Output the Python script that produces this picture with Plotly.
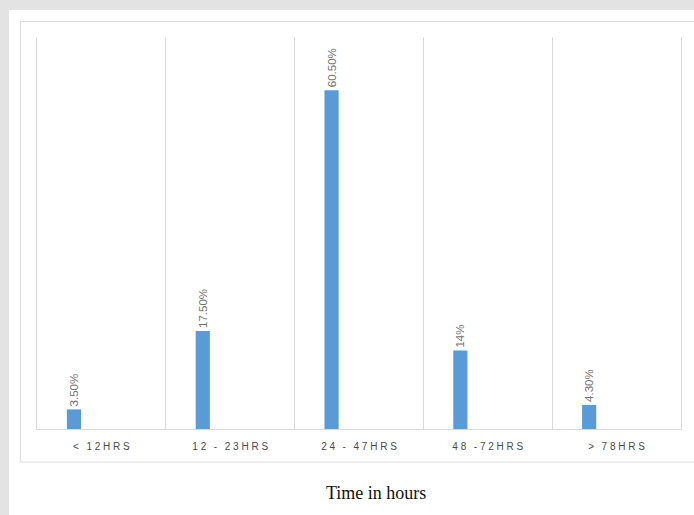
import plotly.graph_objects as go

# Share of cases by time interval
categories = ["< 12HRS", "12 - 23HRS", "24 - 47HRS", "48 -72HRS", "> 78HRS"]
values = [3.5, 17.5, 60.5, 14, 4.3]
value_labels = ["3.50%", "17.50%", "60.50%", "14%", "4.30%"]

W, H = 694, 515
L, R, T, B = 37, 13, 37, 86
PW, PH = W - L - R, H - T - B


def spaced(s):
    # wide letter spacing for the category captions
    return " ".join(s.replace(" ", "\u2009"))


def px_x(p):
    return (p - L) / PW


def px_y(p):
    return (H - B - p) / PH


fig = go.Figure()
fig.add_trace(go.Bar(
    x=categories,
    y=values,
    text=value_labels,
    textposition="outside",
    textangle=-90,
    constraintext="none",
    textfont=dict(family="Liberation Sans, Arial", size=11.5, color="#707070"),
    marker=dict(color="#5b9bd5", line=dict(width=0)),
    width=0.11,
    offset=-0.268,
    cliponaxis=False,
    hoverinfo="skip",
))

shapes = [
    # gray frame strips
    dict(type="rect", xref="paper", yref="paper", x0=px_x(0), x1=px_x(9),
         y0=px_y(H), y1=px_y(0), fillcolor="#e3e3e3", line=dict(width=0), layer="below"),
    dict(type="rect", xref="paper", yref="paper", x0=px_x(0), x1=px_x(W),
         y0=px_y(10), y1=px_y(0), fillcolor="#e3e3e3", line=dict(width=0), layer="below"),
    # chart box
    dict(type="rect", xref="paper", yref="paper", x0=px_x(20.5), x1=px_x(W + 5),
         y0=px_y(462), y1=px_y(21.5), fillcolor="rgba(0,0,0,0)",
         line=dict(color="#dedede", width=1.2), layer="below"),
]

fig.update_layout(
    width=W, height=H,
    margin=dict(l=L, r=R, t=T, b=B),
    paper_bgcolor="white",
    plot_bgcolor="white",
    showlegend=False,
    shapes=shapes,
    xaxis=dict(
        type="category",
        tickmode="array",
        tickvals=categories,
        ticktext=[spaced(c) for c in categories],
        range=[-0.5, len(categories) - 0.5],
        tickson="boundaries",
        ticks="",
        showgrid=True,
        gridcolor="#d9d9d9",
        gridwidth=1,
        showline=True,
        linecolor="#d9d9d9",
        linewidth=1,
        mirror=False,
        zeroline=False,
        tickfont=dict(family="Liberation Sans, Arial", size=10, color="#4a4a4a"),
        ticklabelstandoff=8,
        fixedrange=True,
    ),
    yaxis=dict(
        range=[0, 70],
        showgrid=False,
        showticklabels=False,
        zeroline=False,
        showline=True,
        linecolor="#d9d9d9",
        linewidth=1,
        mirror=True,
        ticks="",
        fixedrange=True,
    ),
    annotations=[
        dict(text="Time in hours", xref="paper", yref="paper",
             x=px_x(376), y=px_y(493), xanchor="center", yanchor="middle",
             showarrow=False,
             font=dict(family="Liberation Serif, Times New Roman", size=18, color="#111111")),
    ],
)

fig.write_html("out.html")
